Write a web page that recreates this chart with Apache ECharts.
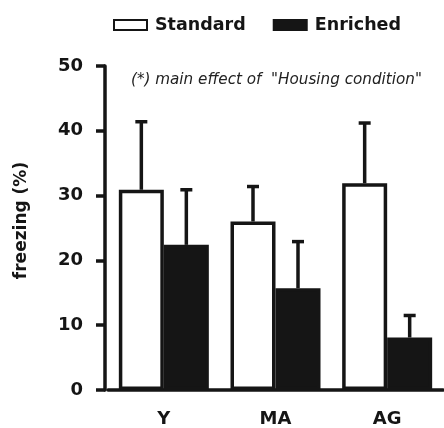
<!DOCTYPE html>
<html><head><meta charset="utf-8">
<script src="https://cdn.jsdelivr.net/npm/echarts@6/dist/echarts.min.js"></script>
<style>html,body{margin:0;padding:0;background:#fff}#c{width:444px;height:428px}</style>
</head><body><div id="c"></div>
<script>
const categories = ['Y', 'MA', 'AG'];
const standardMean = [30.9, 26.0, 31.9];
const standardErrTop = [41.4, 31.4, 41.2];
const enrichedMean = [22.4, 15.7, 8.1];
const enrichedErrTop = [30.9, 22.9, 11.5];
const yTicks = [0, 10, 20, 30, 40, 50];

const chart = echarts.init(document.getElementById('c'));
const FONT = '"DejaVu Sans", sans-serif';
const INK = '#151515';
const BAR_W = 45;

function errSeries(name, means, tops, dir) {
  return {
    type: 'custom', name: name + ' err', silent: true, z: 1,
    data: means.map((m, i) => [i, m, tops[i]]),
    renderItem: function (params, api) {
      const base = api.coord([api.value(0), api.value(1)]);
      const top = api.coord([api.value(0), api.value(2)]);
      const x = base[0] + dir * BAR_W / 2;
      const st = { stroke: INK, lineWidth: 3.5 };
      return { type: 'group', children: [
        { type: 'line', shape: { x1: x, y1: base[1], x2: x, y2: top[1] }, style: st },
        { type: 'line', shape: { x1: x - 6, y1: top[1], x2: x + 6, y2: top[1] }, style: st }
      ]};
    }
  };
}

chart.setOption({
  animation: false,
  textStyle: { fontFamily: FONT },
  legend: {
    top: 11, left: 108, itemWidth: 33, itemHeight: 10, itemGap: 27,
    icon: 'rect',
    textStyle: { fontSize: 17.5, fontWeight: 'bold', color: INK, fontFamily: FONT, padding: [0, 0, 0, 3] },
    data: ['Standard', 'Enriched']
  },
  title: {
    text: '(*) main effect of  "Housing condition"',
    left: 126, top: 68,
    textStyle: { fontSize: 15.2, fontStyle: 'italic', fontWeight: 'normal', color: '#222', fontFamily: FONT }
  },
  grid: { left: 108, right: 1, top: 66, bottom: 36 },
  xAxis: {
    type: 'category', data: categories,
    axisLine: { lineStyle: { color: INK, width: 3.5 } },
    axisTick: { show: false },
    axisLabel: { fontSize: 18, fontWeight: 'bold', color: INK, margin: 20, fontFamily: FONT }
  },
  yAxis: {
    type: 'value', min: 0, max: 50, interval: 10, offset: 3,
    name: 'freezing (%)', nameLocation: 'middle', nameRotate: 90, nameGap: 75,
    nameTextStyle: { fontSize: 17, fontWeight: 'bold', color: INK, fontFamily: FONT, padding: [0, 0, 0, 15] },
    axisLine: { show: true, lineStyle: { color: INK, width: 3.5 } },
    axisTick: { show: true, length: 9, lineStyle: { color: INK, width: 3.5 } },
    axisLabel: { fontSize: 18, fontWeight: 'bold', color: INK, margin: 22, fontFamily: FONT,
      formatter: v => yTicks.includes(v) ? String(v) : '' },
    splitLine: { show: false }
  },
  series: [
    { type: 'bar', name: 'Standard', data: standardMean, barWidth: BAR_W, barGap: '0%', z: 2,
      itemStyle: { color: '#fff', borderColor: INK, borderWidth: 3.5 } },
    { type: 'bar', name: 'Enriched', data: enrichedMean, barWidth: BAR_W, barGap: '0%', z: 2,
      itemStyle: { color: INK, borderColor: INK, borderWidth: 3.5 } },
    errSeries('Standard', standardMean, standardErrTop, -1),
    errSeries('Enriched', enrichedMean, enrichedErrTop, 1)
  ]
});
</script></body></html>
